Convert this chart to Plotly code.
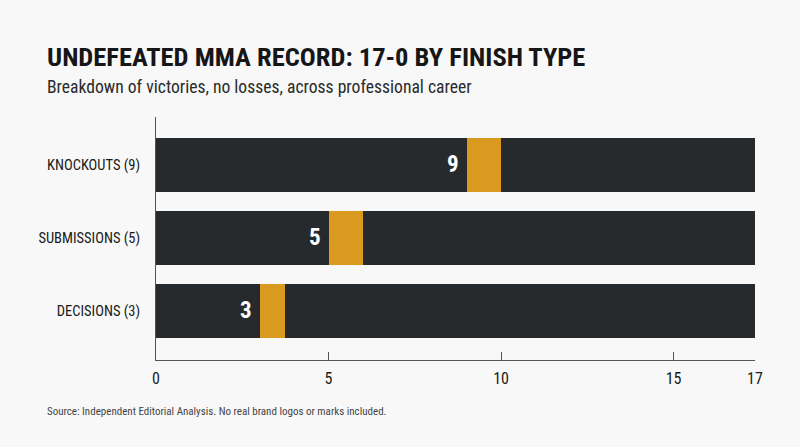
import plotly.graph_objects as go

# finish types, top to bottom
categories = ["KNOCKOUTS (9)", "SUBMISSIONS (5)", "DECISIONS (3)"]
wins = [9, 5, 3]
marker_width = [1, 1, 0.75]   # the gold notch drawn right after each count
record_total = 17.36          # where the track ends (axis labelled 17)

tick_vals = [0, 5, 10, 15, record_total]
tick_text = ["0", "5", "10", "15", "17"]

title = "UNDEFEATED MMA RECORD: 17-0 BY FINISH TYPE"
subtitle = "Breakdown of victories, no losses, across professional career"
source = "Source: Independent Editorial Analysis. No real brand logos or marks included."

DARK = "#272a2d"
GOLD = "#d99a1f"
BG = "#f8f8f8"
FONT = "Roboto Condensed, Roboto, sans-serif"

rest = [record_total - w - m for w, m in zip(wins, marker_width)]

fig = go.Figure()
for xs, col in [(wins, DARK), (marker_width, GOLD), (rest, DARK)]:
    fig.add_trace(go.Bar(y=categories, x=xs, orientation="h", marker=dict(color=col, line_width=0),
                         hoverinfo="skip", showlegend=False))

# value labels just left of the gold notch
for cat, w in zip(categories, wins):
    fig.add_annotation(x=w, y=cat, xref="x", yref="y", text=str(w), showarrow=False,
                       xanchor="right", xshift=-6,
                       font=dict(family=FONT, size=23, color="white", weight=700))

# header / footer, offsets in pixels from the plot area
fig.add_annotation(xref="paper", yref="paper", x=0, y=1, xshift=45 - 156, yshift=61,
                   text="<b>" + title + "</b>", showarrow=False, xanchor="left", yanchor="middle",
                   font=dict(family=FONT, size=26.5, color="#161616"))
fig.add_annotation(xref="paper", yref="paper", x=0, y=1, xshift=45 - 156, yshift=30,
                   text=subtitle, showarrow=False, xanchor="left", yanchor="middle",
                   font=dict(family=FONT, size=17.6, color="#2a2a2a"))
fig.add_annotation(xref="paper", yref="paper", x=0, y=0, xshift=45 - 156, yshift=-51,
                   text=source, showarrow=False, xanchor="left", yanchor="middle",
                   font=dict(family=FONT, size=11, color="#444444"))

fig.update_layout(
    width=800, height=447,
    barmode="stack", bargap=0.26,
    paper_bgcolor=BG, plot_bgcolor=BG,
    margin=dict(l=156, r=45, t=117, b=87),
    showlegend=False,
)

fig.update_xaxes(range=[0, record_total], tickvals=tick_vals, ticktext=tick_text,
                 showgrid=False, zeroline=False,
                 showline=True, linecolor="#555555", linewidth=1,
                 ticks="inside", ticklen=8, tickcolor="#555555",
                 tickfont=dict(family=FONT, size=16, color="#1a1a1a"), ticklabelstandoff=4)
fig.update_yaxes(categoryorder="array", categoryarray=categories,
                 range=[2.674, -0.655], showgrid=False, zeroline=False,
                 showline=True, linecolor="#555555", linewidth=1,
                 ticks="", ticklabelstandoff=12,
                 tickfont=dict(family=FONT, size=14.5, color="#1a1a1a"))

fig.write_html("out.html", config={"displayModeBar": False},
               post_script="document.body.style.margin='0';")
